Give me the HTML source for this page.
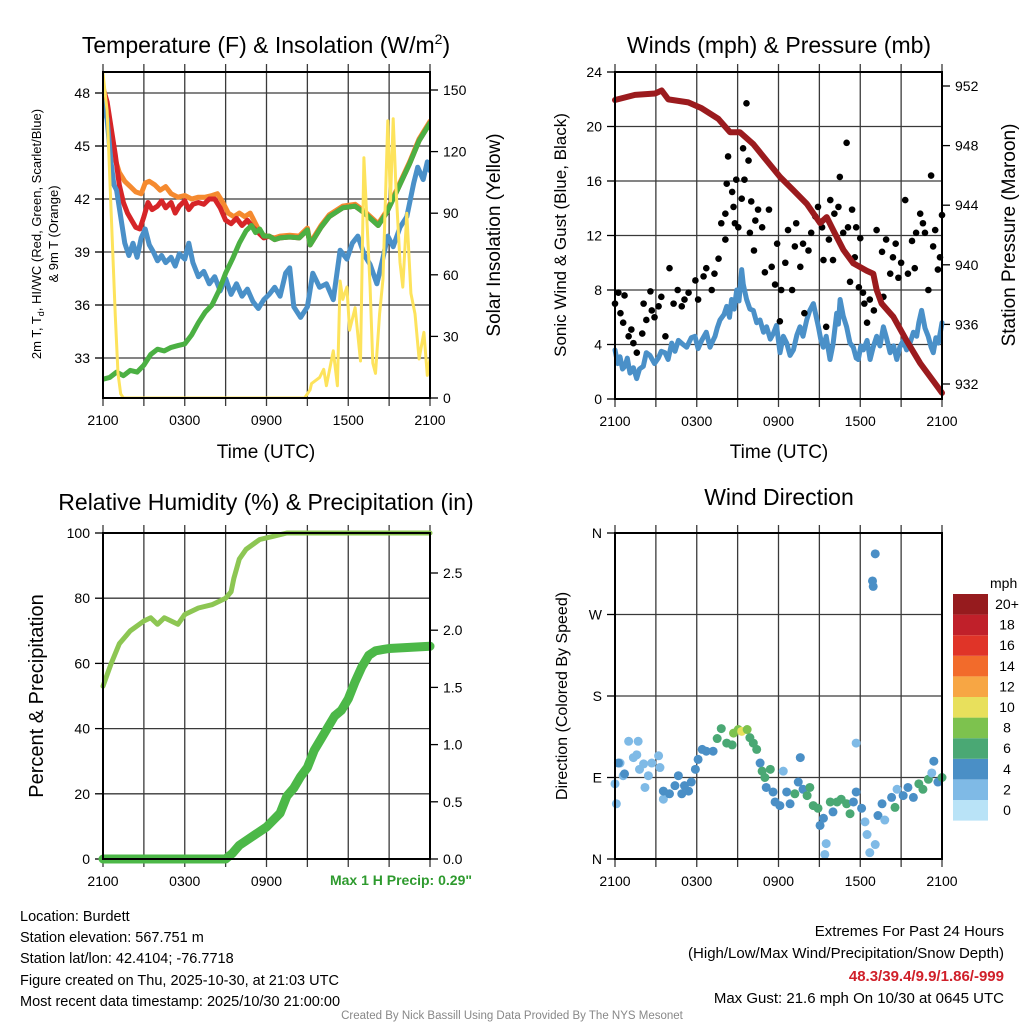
<!DOCTYPE html>
<html><head><meta charset="utf-8"><title>Mesonet Station Charts</title>
<style>
html,body{margin:0;padding:0;background:#fff;}
svg{display:block;font-family:"Liberation Sans",Arial,sans-serif;}
</style></head>
<body>
<svg id="chart" xmlns="http://www.w3.org/2000/svg" width="1024" height="1024" viewBox="0 0 1024 1024">
<rect x="0" y="0" width="1024" height="1024" fill="#fff"/>
<text x="266" y="53" font-size="23" text-anchor="middle">Temperature (F) &amp; Insolation (W/m<tspan font-size="14" dy="-9">2</tspan><tspan dy="9">)</tspan></text>
<text x="779" y="53" font-size="23" text-anchor="middle">Winds (mph) &amp; Pressure (mb)</text>
<text x="266" y="510" font-size="23" text-anchor="middle">Relative Humidity (%) &amp; Precipitation (in)</text>
<text x="779" y="505" font-size="23" text-anchor="middle">Wind Direction</text>
<text x="266" y="458" font-size="19" text-anchor="middle">Time (UTC)</text>
<text x="779" y="458" font-size="19" text-anchor="middle">Time (UTC)</text>
<g transform="translate(41,234) rotate(-90)">
<text x="0" y="0" font-size="13" text-anchor="middle">2m T, T<tspan font-size="9" dy="3">d</tspan><tspan dy="-3">, HI/WC (Red, Green, Scarlet/Blue)</tspan></text>
<text x="0" y="17" font-size="13" text-anchor="middle">&amp; 9m T (Orange)</text>
</g>
<text transform="translate(500,235) rotate(-90)" font-size="19" text-anchor="middle">Solar Insolation (Yellow)</text>
<text transform="translate(566,235) rotate(-90)" font-size="17" text-anchor="middle">Sonic Wind &amp; Gust (Blue, Black)</text>
<text transform="translate(1015,235) rotate(-90)" font-size="19" text-anchor="middle">Station Pressure (Maroon)</text>
<text transform="translate(43,696) rotate(-90)" font-size="20" text-anchor="middle">Percent &amp; Precipitation</text>
<text transform="translate(567,696) rotate(-90)" font-size="16" text-anchor="middle">Direction (Colored By Speed)</text>
<text x="472" y="885" font-size="14" font-weight="bold" fill="#2e9a2e" text-anchor="end">Max 1 H Precip: 0.29"</text>
<g font-size="14.5">
<text x="20" y="921">Location: Burdett</text>
<text x="20" y="942">Station elevation: 567.751 m</text>
<text x="20" y="963">Station lat/lon: 42.4104; -76.7718</text>
<text x="20" y="985">Figure created on Thu, 2025-10-30, at 21:03 UTC</text>
<text x="20" y="1006">Most recent data timestamp: 2025/10/30 21:00:00</text>
</g>
<g font-size="15" text-anchor="end">
<text x="1004" y="936">Extremes For Past 24 Hours</text>
<text x="1004" y="958">(High/Low/Max Wind/Precipitation/Snow Depth)</text>
<text x="1004" y="981" font-weight="bold" fill="#d0202a">48.3/39.4/9.9/1.86/-999</text>
<text x="1004" y="1003">Max Gust: 21.6 mph On 10/30 at 0645 UTC</text>
</g>
<text x="512" y="1019" font-size="11.5" fill="#888" text-anchor="middle">Created By Nick Bassill Using Data Provided By The NYS Mesonet</text>
</svg>
<script>
// ---------- data ----------
const timeTickLabels = ["2100","0300","0900","1500","2100"];
const tempTicks = [33,36,39,42,45,48];
const insolTicks = [0,30,60,90,120,150];
const windTicks = [0,4,8,12,16,20,24];
const pressTicks = [932,936,940,944,948,952];
const rhTicks = [0,20,40,60,80,100];
const precipTicks = [0.0,0.5,1.0,1.5,2.0,2.5];
const dirTicks = [0,90,180,270,360];
const dirTickLabels = ["N","E","S","W","N"];
const speedBins = ["0","2","4","6","8","10","12","14","16","18","20+"];
const speedColors = ["#b9e3f7","#7fbae6","#4a8fc6","#4aa874","#7dc24e","#e8e05c","#f7a644","#f26b2b","#e03428","#c0202a","#961b1e"];

const tempHours = [0,0.3,0.6,0.9,1.2,1.5,1.8,2.1,2.4,2.7,3.0,3.3,3.6,4.0,4.3,4.6,5.0,5.3,5.6,6.0,6.3,6.6,7.0,7.4,7.8,8.2,8.6,9.0,9.4,9.8,10.2,10.6,11.0,11.4,11.8,12.2,12.6,13.0,13.7,14.4,15.0,15.2,16.0,16.6,17.6,18.5,19.2,20.2,20.8,21.6,22.5,23.2,24];
const tempValues = [48.3,47.5,46,44.5,42.8,41.8,41.2,40.8,40.4,40.3,41.0,41.8,41.4,41.6,41.9,41.5,41.8,41.2,41.6,41.9,41.4,41.7,41.8,41.7,42.0,42.0,41.5,40.8,40.6,40.9,40.5,40.8,40.4,40.1,39.8,39.9,39.7,39.8,39.85,39.8,40.25,39.4,40.4,41.0,41.5,41.6,41.2,40.5,41.2,42.5,44.0,45.3,46.3];
const temp9mHours = [0,0.4,0.8,1.2,1.6,2.0,2.4,2.8,3.1,3.4,3.8,4.2,4.6,5.0,5.5,6.0,6.5,7.0,7.5,8.0,8.4,8.8,9.2,9.6,10.0,10.4,10.8,11.2,11.6,12.0,12.6,13.0,13.7,14.4,15.0,15.2,16.0,16.6,17.6,18.5,19.2,20.2,20.8,21.6,22.5,23.2,24];
const temp9mValues = [48.0,46.5,44.5,43.5,43.0,42.7,42.4,42.3,42.9,43.0,42.8,42.5,42.7,42.3,42.1,42.2,42.0,42.1,42.1,42.2,42.3,41.8,41.2,41.0,41.2,41.0,41.2,40.6,40.0,39.9,39.8,39.9,39.95,39.9,40.35,39.5,40.5,41.1,41.6,41.7,41.3,40.6,41.3,42.6,44.1,45.4,46.4];
const dewHours = [0,0.5,1,1.5,2,2.5,3,3.5,4,4.5,5,5.5,6,6.5,7,7.5,8,8.5,9,9.5,10,10.5,10.9,11.2,11.5,11.8,12.2,12.6,13.0,13.7,14.4,15.0,15.2,16.0,16.6,17.6,18.5,19.2,20.2,20.8,21.6,22.5,23.2,24];
const dewValues = [31.8,31.9,32.2,32.0,32.3,32.2,32.6,33.2,33.5,33.4,33.6,33.7,33.8,34.3,35.0,35.6,36.0,36.8,37.8,38.6,39.5,40.2,40.5,40.1,40.3,39.9,39.9,39.7,39.8,39.85,39.8,40.25,39.4,40.4,41.0,41.5,41.6,41.2,40.5,41.2,42.5,44.0,45.3,46.3];
const chillHours = [0,0.3,0.6,0.8,1.0,1.3,1.6,1.9,2.2,2.5,2.8,3.1,3.4,3.7,4.0,4.3,4.6,5.0,5.3,5.6,6.0,6.3,6.6,7.0,7.4,7.8,8.2,8.6,9.0,9.4,9.8,10.2,10.6,11.0,11.4,11.8,12.2,12.6,13.0,13.4,13.7,14.0,14.5,15.0,15.4,15.9,16.4,16.9,17.4,17.9,18.3,18.7,19.2,19.6,20.1,20.5,20.9,21.3,21.8,22.3,22.8,23.1,23.5,23.8,24];
const chillValues = [47.5,46.5,44.0,42.8,42.5,41.0,39.5,38.8,39.5,38.7,39.8,40.3,39.4,39.0,38.5,38.8,38.4,38.7,38.2,38.9,38.6,39.5,38.4,37.6,37.9,37.2,37.6,36.8,37.5,36.6,37.2,36.5,36.9,36.2,35.8,36.3,36.6,37.0,36.5,37.8,38.1,35.9,35.3,35.9,37.8,37.0,37.2,36.3,39.1,38.6,39.5,39.9,38.8,38.3,37.2,38.5,39.9,39.3,40.4,41.0,42.9,43.8,43.1,44.1,43.6];
const insolHours = [0,0.3,0.6,0.9,1.1,1.3,1.5,14.8,15.2,15.3,15.9,16.2,16.4,16.9,17.2,17.4,17.6,17.9,18.1,18.5,18.9,19.15,19.3,19.6,19.8,20.0,20.3,20.55,20.9,21.1,21.3,21.5,21.8,22.0,22.3,22.6,22.9,23.2,23.55,23.8,24];
const insolValues = [158,140,90,40,12,2,0,0,4,7,10,14,6,23,6,57,48,54,33,44,18,117,96,54,17,12,41,58,135,96,136,103,66,54,90,51,41,19,32,11,19];

const windHours = [0,0.2,0.37,0.55,0.73,0.9,1.1,1.35,1.59,1.8,2.08,2.3,2.57,2.9,3.18,3.4,3.67,3.9,4.16,4.4,4.65,5.0,5.26,5.6,5.87,6.1,6.36,6.7,6.97,7.15,7.34,7.5,7.71,8.0,8.2,8.4,8.56,8.75,8.93,9.1,9.3,9.42,9.66,9.9,10.15,10.4,10.64,10.9,11.13,11.4,11.62,11.85,12.11,12.35,12.6,12.85,13.09,13.35,13.58,13.8,14.07,14.3,14.56,14.75,14.93,15.1,15.29,15.5,15.78,16.0,16.27,16.4,16.52,16.75,17.0,17.25,17.49,17.7,17.86,18.05,18.23,18.5,18.72,18.95,19.21,19.45,19.7,19.95,20.19,20.45,20.68,20.9,21.16,21.4,21.65,21.9,22.14,22.3,22.5,22.75,22.99,23.2,23.36,23.55,23.73,23.9,24];
const windValues = [3.6,2.6,3.1,2.2,2.4,3.0,1.9,2.3,1.5,2.2,2.4,3.4,3.2,2.6,3.0,3.5,3.4,2.9,4.1,3.5,4.3,4.0,3.8,4.5,4.6,3.7,4.3,4.9,3.8,4.2,4.6,5.2,5.8,6.2,6.8,6.0,7.3,6.6,8.0,7.2,9.5,8.4,7.3,6.6,6.5,5.6,5.8,4.9,5.3,4.4,4.8,5.4,3.4,4.6,4.1,3.2,3.6,4.7,5.3,4.6,5.8,6.5,7.0,6.1,5.3,4.4,3.8,4.6,2.9,4.0,6.3,5.5,7.3,6.1,5.3,4.1,3.8,3.0,2.9,3.9,3.6,4.3,2.9,3.8,4.6,3.9,5.3,4.4,3.4,3.9,2.9,3.8,4.3,3.6,4.1,4.9,4.6,5.6,6.5,5.2,4.6,3.8,3.4,4.5,4.1,5.0,5.6];
const gustHours = [0,0.25,0.4,0.6,0.7,1,1.2,1.35,1.6,2,2.1,2.3,2.6,2.7,2.9,3.2,3.4,3.7,4.0,4.3,4.6,4.9,5.1,5.4,5.9,6.1,6.5,6.7,7.1,7.3,7.6,7.8,8.1,8.1,8.2,8.3,8.6,8.7,8.8,8.9,9.05,9.3,9.4,9.5,9.65,9.8,9.9,10.0,10.2,10.3,10.5,10.8,11.0,11.3,11.5,11.75,11.9,12.1,12.2,12.5,12.7,13.0,13.2,13.3,13.6,13.8,13.9,14.2,14.4,14.7,14.9,15.2,15.3,15.5,15.7,15.8,16.0,16.1,16.4,16.5,16.75,17.0,17.1,17.25,17.4,17.6,17.7,17.9,18.0,18.2,18.3,18.5,18.7,19.0,19.2,19.6,19.7,19.9,20.2,20.4,20.6,20.8,21.0,21.3,21.5,21.8,22.0,22.1,22.4,22.6,22.75,23.0,23.2,23.35,23.5,23.7,23.85,24.0];
const gustValues = [7.0,7.8,6.3,5.6,7.6,4.6,5.1,4.1,3.4,4.8,7.0,5.8,7.9,6.5,6.0,6.8,7.5,4.6,9.6,7.0,8.0,6.8,7.3,7.8,8.7,7.3,9.0,9.6,8.0,9.2,10.3,12.9,11.7,13.6,15.8,17.8,15.2,14.1,12.9,16.1,12.6,14.7,18.4,16.1,21.7,17.5,12.2,14.5,10.9,13.1,13.9,12.6,9.3,13.9,9.7,8.4,11.4,5.7,8.0,10.0,12.4,8.0,11.2,12.9,9.7,11.4,6.3,10.9,12.2,13.4,14.1,12.6,10.2,5.3,11.7,14.6,10.2,13.6,14.1,16.3,12.2,18.8,12.6,8.6,13.9,10.4,12.6,8.2,11.8,7.8,7.0,5.6,7.3,6.5,12.4,10.8,7.5,11.7,9.2,10.4,11.4,8.9,10.0,14.6,9.2,11.6,9.6,12.2,13.6,12.9,12.2,8.0,16.4,11.2,12.4,9.5,10.4,13.5];
const pressHours = [0,1.47,2.94,3.43,3.91,5.38,6.36,7.58,8.44,9.17,10.15,11.13,12.11,13.09,14.07,15.05,15.54,16.03,16.76,17.49,18.47,18.96,19.21,19.57,20.43,21.41,22.39,23.36,24];
const pressValues = [951.06,951.4,951.5,951.7,951.1,950.9,950.5,949.8,948.9,948.9,948.1,947.0,945.9,945.0,944.1,942.8,943.2,942.3,941.0,940.1,939.6,939.4,938.3,937.4,936.5,934.9,933.4,932.2,931.4];

const rhHours = [0,0.6,1.2,2,3,3.5,4,4.5,5.5,6,7,8,9,9.4,9.6,10,10.5,11.5,12.5,13.5,24];
const rhValues = [53,60,66,70,73,74,72,74,72,75,77,78,80,82,86,92,95,98,99,100,100];
const precipHours = [0,9,9.5,10,11,12,13,13.5,14,14.5,15,15.5,16,16.5,17,17.5,18,18.5,19,19.5,20,21,24];
const precipValues = [0,0,0.05,0.12,0.2,0.28,0.4,0.55,0.62,0.72,0.8,0.95,1.05,1.15,1.25,1.3,1.4,1.55,1.68,1.78,1.82,1.84,1.86];

const dirHours = [0,0.1,0.37,0.6,1,1.35,1.6,1.7,1.8,2.1,2.2,2.45,2.7,3.2,3.3,3.55,0.25,0.7,3.55,4.0,4.4,4.65,4.9,5.1,5.4,5.6,5.9,6.1,6.4,6.7,7.2,7.5,7.8,8.2,8.6,8.7,9.05,9.3,9.7,9.9,10.15,10.4,10.65,10.8,11.0,11.4,11.1,11.6,11.75,12.1,12.35,12.6,12.85,13.2,13.45,13.6,13.8,14.1,14.3,14.55,14.9,15.05,15.3,15.5,15.4,15.8,16.0,16.3,16.6,17.0,17.25,17.5,17.7,17.7,18.1,18.35,18.5,18.7,19.1,19.3,19.6,19.8,20.3,20.55,20.7,21.15,21.5,21.9,22.3,22.6,23.0,23.25,23.4,23.7,24.0,19.1,18.9,18.95];
const dirValues = [83,61,106,92,130,112,115,130,99,105,79,92,106,114,101,66,106,94,75,72,81,92,72,81,75,85,99,110,121,119,119,133,144,128,126,139,143,141,143,134,128,121,106,97,90,99,79,74,63,59,97,74,61,72,85,112,77,70,79,59,56,37,45,17,5,63,52,63,66,61,50,63,74,128,56,41,27,7,16,48,61,43,68,57,77,70,79,68,83,77,88,95,108,85,90,337,307,301];
const dirSpeeds = [3,3,3,3,3,3,3,3,3,3,3,3,3,3,3,3,5,5,5,5,5,5,5,5,5,5,5,5,5,5,5,7,7,7,7,9,9,11,9,7,7,7,5,7,7,7,5,5,5,5,3,5,5,7,5,5,5,7,7,7,7,5,5,3,3,7,5,7,7,7,7,5,5,3,5,3,3,3,3,5,5,3,5,7,3,5,5,5,7,7,7,3,5,5,7,5,5,5];

// ---------- drawing ----------
const NS = "http://www.w3.org/2000/svg";
const svg = document.getElementById("chart");
function mk(tag, attrs, name, parent) {
  const e = document.createElementNS(NS, tag);
  for (const k in attrs) e.setAttribute(k, attrs[k]);
  
  
  (parent || svg).appendChild(e);
  return e;
}
function txt(x, y, s, size, anchor, name, parent) {
  const t = mk("text", {x: x, y: y, "font-size": size, "text-anchor": anchor}, name, parent);
  t.textContent = s;
  return t;
}
function linear(d0, d1, r0, r1) { return v => r0 + (v - d0) * (r1 - r0) / (d1 - d0); }

const panels = {
  temp:  {x0:103, x1:430, y0:72,  y1:398},
  wind:  {x0:615, x1:942, y0:72,  y1:399},
  rh:    {x0:103, x1:430, y0:533, y1:859},
  dir:   {x0:615, x1:942, y0:533, y1:859}
};
const sx = {};
for (const k in panels) sx[k] = linear(0, 24, panels[k].x0, panels[k].x1);
const yTemp = linear(48, 33, 93, 358);
const yInsol = linear(0, 150, 398, 90);
const yWind = linear(0, 24, 399, 72);
const yPress = linear(952, 932, 86, 384);
const yRH = linear(0, 100, 859, 533);
const yPrecip = linear(0, 2.5, 859, 573);
const yDir = linear(0, 360, 859, 533);

function frame(key, leftTicks, leftScale, leftFmt, rightTicks, rightScale, rightFmt, nXLabels) {
  const p = panels[key];
  const g = mk("g", {}, key + "-axes");
  leftTicks.forEach(v => {
    const y = leftScale(v);
    mk("line", {x1:p.x0, x2:p.x1, y1:y, y2:y, stroke:"#3a3a3a", "stroke-width":1.3}, key + "-h-gridline", g);
    mk("line", {x1:p.x0-8, x2:p.x0, y1:y, y2:y, stroke:"#000", "stroke-width":1.3}, key + "-left-tick", g);
    txt(p.x0-13, y+5, leftFmt(v), 14, "end", key + "-left-tick-label", g);
  });
  if (rightTicks) rightTicks.forEach(v => {
    const y = rightScale(v);
    mk("line", {x1:p.x1, x2:p.x1+8, y1:y, y2:y, stroke:"#000", "stroke-width":1.3}, key + "-right-tick", g);
    txt(p.x1+13, y+5, rightFmt(v), 14, "start", key + "-right-tick-label", g);
  });
  for (let h = 0; h <= 24; h += 3) {
    const x = sx[key](h);
    mk("line", {x1:x, x2:x, y1:p.y0-8, y2:p.y1+8, stroke:"#3a3a3a", "stroke-width":1.3}, key + "-v-gridline", g);
  }
  timeTickLabels.forEach((s, i) => {
    if (i < nXLabels) txt(sx[key](i*6), p.y1+27, s, 14, "middle", key + "-x-tick-label", g);
  });
  return g;
}
function frameBorder(key) {
  const p = panels[key];
  mk("rect", {x:p.x0, y:p.y0, width:p.x1-p.x0, height:p.y1-p.y0, fill:"none", stroke:"#000", "stroke-width":2}, key + "-plot-frame");
}
function pl(parent, hours, vals, xs, ys, color, w, name) {
  const pts = hours.map((h, i) => xs(h).toFixed(1) + "," + ys(vals[i]).toFixed(1)).join(" ");
  mk("polyline", {points:pts, fill:"none", stroke:color, "stroke-width":w, "stroke-linejoin":"round", "stroke-linecap":"round"}, name, parent);
}

// Panel 1
frame("temp", tempTicks, yTemp, v => String(v), insolTicks, yInsol, v => String(v), 5);
const clip1 = mk("clipPath", {id:"clip-temp"}, "temp-clip");
mk("rect", {x:103, y:72, width:327, height:326}, "temp-clip-rect", clip1);
const gT = mk("g", {"clip-path":"url(#clip-temp)"}, "temp-series");
pl(gT, temp9mHours, temp9mValues, sx.temp, yTemp, "#f58a2f", 5, "temperature-9m-line");
pl(gT, tempHours, tempValues, sx.temp, yTemp, "#d62528", 5, "temperature-2m-line");
pl(gT, chillHours, chillValues, sx.temp, yTemp, "#4a90c8", 5, "wind-chill-line");
pl(gT, dewHours, dewValues, sx.temp, yTemp, "#4bb043", 5, "dewpoint-line");
pl(gT, insolHours, insolValues, sx.temp, yInsol, "#fde35c", 3, "insolation-line");
frameBorder("temp");

// Panel 2
frame("wind", windTicks, yWind, v => String(v), pressTicks, yPress, v => String(v), 5);
const gW = mk("g", {}, "wind-series");
pl(gW, windHours, windValues, sx.wind, yWind, "#4a90c8", 5, "sustained-wind-line");
gustHours.forEach((h, i) => {
  mk("circle", {cx:sx.wind(h), cy:yWind(gustValues[i]), r:3.3, fill:"#000"}, "gust-point", gW);
});
pl(gW, pressHours, pressValues, sx.wind, yPress, "#9b1b1e", 6, "pressure-line");
frameBorder("wind");

// Panel 3
frame("rh", rhTicks, yRH, v => String(v), precipTicks, yPrecip, v => v.toFixed(1), 3);
const gR = mk("g", {}, "humidity-series");
pl(gR, rhHours, rhValues, sx.rh, yRH, "#8dc653", 5, "relative-humidity-line");
pl(gR, precipHours, precipValues, sx.rh, yPrecip, "#4cb848", 9, "precipitation-line");
frameBorder("rh");

// Panel 4
frame("dir", dirTicks, yDir, (v) => dirTickLabels[dirTicks.indexOf(v)], null, null, null, 5);
const gD = mk("g", {}, "direction-series");
dirHours.forEach((h, i) => {
  const bin = Math.min(10, Math.floor(dirSpeeds[i] / 2));
  mk("circle", {cx:sx.dir(h), cy:yDir(dirValues[i]), r:4.5, fill:speedColors[bin]}, "direction-point", gD);
});
frameBorder("dir");

// Color bar
const gC = mk("g", {}, "speed-colorbar");
txt(990, 588, "mph", 14, "start", "colorbar-title", gC);
speedBins.forEach((s, i) => {
  const y = 594 + (10 - i) * 20.6;
  mk("rect", {x:953, y:y, width:35, height:20.6, fill:speedColors[i]}, "colorbar-swatch", gC);
  txt(1007, y + 15, s, 14, "middle", "colorbar-label", gC);
});
</script>
</body></html>
